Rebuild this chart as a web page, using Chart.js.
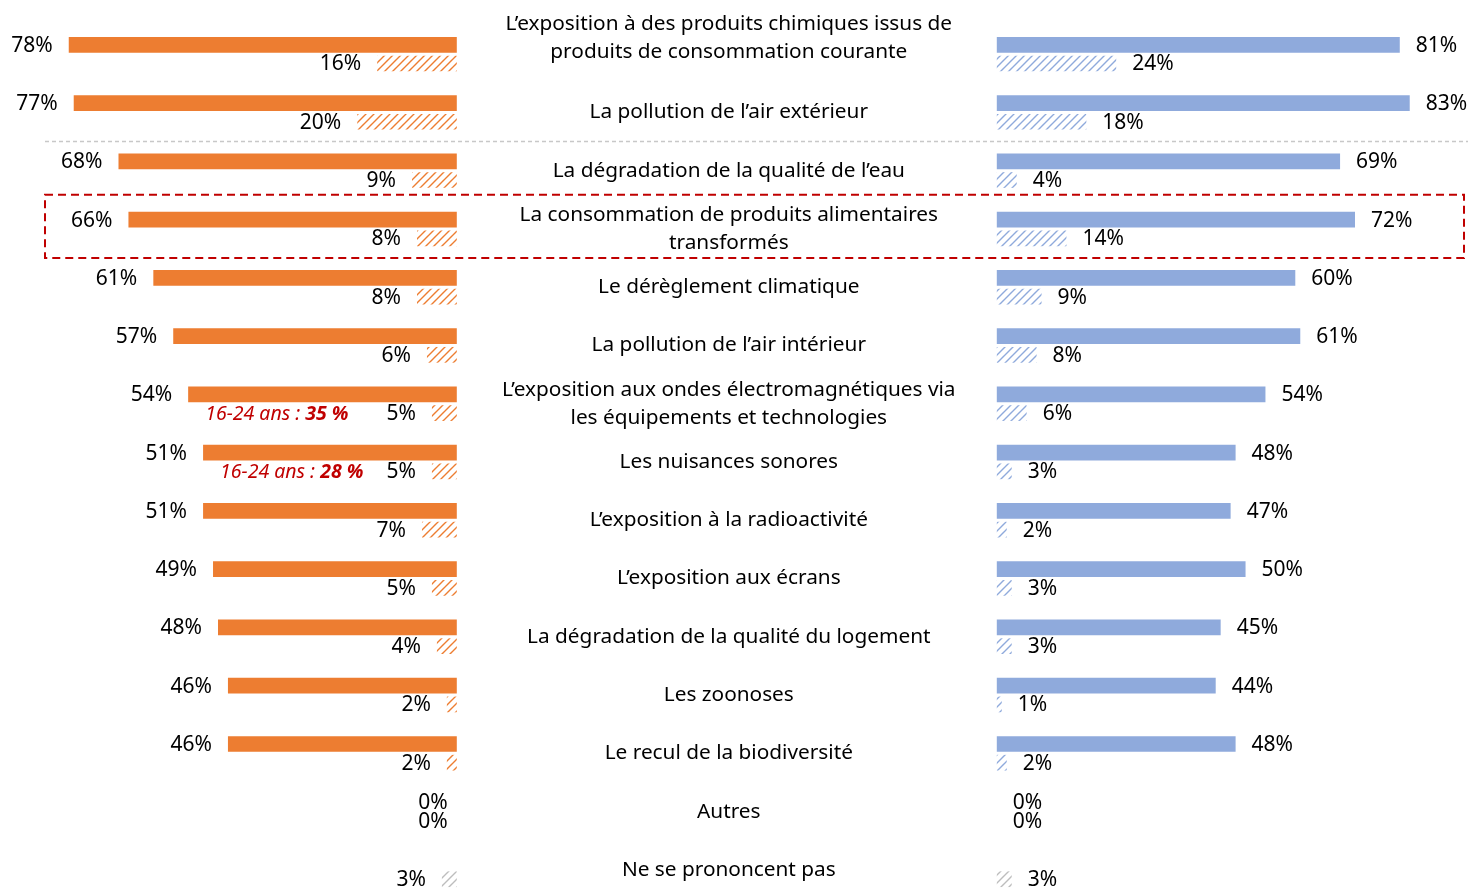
<!DOCTYPE html>
<html lang="fr">
<head>
<meta charset="utf-8">
<script src="https://cdn.jsdelivr.net/npm/chart.js@4/dist/chart.umd.min.js"></script>
<style>
  html, body { margin: 0; padding: 0; overflow: hidden; background: #ffffff; }
  #wrap { position: relative; width: 1468px; height: 910px; }
</style>
</head>
<body>
<div id="wrap"><canvas id="c"></canvas></div>
<script>
// ---------- DATA ----------
const categories = [
  ["L’exposition à des produits chimiques issus de", "produits de consommation courante"],
  "La pollution de l’air extérieur",
  "La dégradation de la qualité de l’eau",
  ["La consommation de produits alimentaires", "transformés"],
  "Le dérèglement climatique",
  "La pollution de l’air intérieur",
  ["L’exposition aux ondes électromagnétiques via", "les équipements et technologies"],
  "Les nuisances sonores",
  "L’exposition à la radioactivité",
  "L’exposition aux écrans",
  "La dégradation de la qualité du logement",
  "Les zoonoses",
  "Le recul de la biodiversité",
  "Autres",
  "Ne se prononcent pas"
];
const leftMain    = [78, 77, 68, 66, 61, 57, 54, 51, 51, 49, 48, 46, 46, 0, null];
const leftSecond  = [16, 20,  9,  8,  8,  6,  5,  5,  7,  5,  4,  2,  2, 0, 3];
const rightMain   = [81, 83, 69, 72, 60, 61, 54, 48, 47, 50, 45, 44, 48, 0, null];
const rightSecond = [24, 18,  4, 14,  9,  8,  6,  3,  2,  3,  3,  1,  2, 0, 3];
const noteCategories = [6, 7];
const notePrefixes   = ["16-24 ans : ", "16-24 ans : "];
const noteValues     = ["35 %", "28 %"];
const noOpinionIndex = 14;
const highlightIndex = 3;
const separatorAfterIndex = 1;

// ---------- STYLES ----------
const ORANGE = '#ED7D31';
const BLUE = '#8FAADC';
const GREY = '#BDBDBD';
const FONT = '"Noto Sans", "Open Sans", sans-serif';

function hatch(color) {
  const s = 8;
  const c = document.createElement('canvas');
  c.width = s; c.height = s;
  const g = c.getContext('2d');
  g.fillStyle = '#ffffff';
  g.fillRect(0, 0, s, s);
  g.strokeStyle = color;
  g.lineWidth = 1.4;
  g.beginPath();
  g.moveTo(0, s); g.lineTo(s, 0);
  g.moveTo(-2, 2); g.lineTo(2, -2);
  g.moveTo(s - 2, s + 2); g.lineTo(s + 2, s - 2);
  g.stroke();
  return g.createPattern(c, 'repeat');
}
const ctx = document.getElementById('c').getContext('2d');
const orangeHatch = hatch(ORANGE);
const blueHatch = hatch(BLUE);
const greyHatch = hatch(GREY);
const leftHatchColors = leftSecond.map((v, i) => i === noOpinionIndex ? greyHatch : orangeHatch);
const rightHatchColors = rightSecond.map((v, i) => i === noOpinionIndex ? greyHatch : blueHatch);

// px per percent = 4.975 ; left zero at 456.8px ; right zero at 996.8px ; width 1468
const PPP = 4.975, W = 1468, LZ = 456.8, RZ = 996.8;

const overlayPlugin = {
  id: 'overlay',
  beforeDatasetsDraw(chart) {
    const g = chart.ctx, y = chart.scales.y, ca = chart.chartArea;
    const sepY = (y.getPixelForValue(separatorAfterIndex) + y.getPixelForValue(separatorAfterIndex + 1)) / 2;
    g.save();
    g.strokeStyle = '#C8C8C8';
    g.lineWidth = 1.5;
    g.setLineDash([4, 3]);
    g.beginPath();
    g.moveTo(ca.left + 45, sepY); g.lineTo(ca.right, sepY);
    g.stroke();
    g.restore();
  },
  afterDatasetsDraw(chart) {
    const g = chart.ctx, y = chart.scales.y, ca = chart.chartArea;
    g.save();
    g.fillStyle = '#000000';
    g.textBaseline = 'middle';
    // value labels
    chart.data.datasets.forEach((ds, di) => {
      const meta = chart.getDatasetMeta(di);
      const isLeft = ds.xAxisID === 'xl';
      meta.data.forEach((el, i) => {
        const v = ds.data[i];
        if (v === null || v === undefined) return;
        g.font = '21px ' + FONT;
        g.textAlign = isLeft ? 'right' : 'left';
        const gap = (isLeft && v === 0) ? 9 : 16;
        g.fillText(v + '%', isLeft ? el.x - gap : el.x + gap, el.y + 1);
      });
    });
    // category labels
    const cx = (chart.scales.xl.getPixelForValue(0) + chart.scales.xr.getPixelForValue(0)) / 2 + 2;
    g.font = '20.8px ' + FONT;
    g.textAlign = 'center';
    const LH = 28;
    chart.data.labels.forEach((lab, i) => {
      const lines = Array.isArray(lab) ? lab : [lab];
      let center = y.getPixelForValue(i);
      if (i === 0) center = 10 + lines.length * LH / 2; // first label pinned to top edge
      const first = center - (lines.length - 1) * LH / 2;
      lines.forEach((t, k) => g.fillText(t, cx, first + k * LH));
    });
    // age notes (italic red)
    const lm = chart.getDatasetMeta(0), ls = chart.getDatasetMeta(1);
    noteCategories.forEach((ci, k) => {
      const x0 = lm.data[ci].x + 17;
      const yy = ls.data[ci].y + 1;
      g.fillStyle = '#C00000';
      g.textAlign = 'left';
      g.font = 'italic 19.5px ' + FONT;
      g.fillText(notePrefixes[k], x0, yy);
      const w = g.measureText(notePrefixes[k]).width;
      g.font = 'italic bold 19.5px ' + FONT;
      g.fillText(noteValues[k], x0 + w, yy);
    });
    // red dashed highlight box
    const top = (y.getPixelForValue(highlightIndex - 1) + y.getPixelForValue(highlightIndex)) / 2 - 5;
    const bot = (y.getPixelForValue(highlightIndex) + y.getPixelForValue(highlightIndex + 1)) / 2;
    g.strokeStyle = '#C00000';
    g.lineWidth = 2;
    g.setLineDash([8, 5]);
    g.strokeRect(ca.left + 45, top, ca.right - 4 - (ca.left + 45), bot - top);
    g.restore();
  }
};

new Chart(ctx, {
  type: 'bar',
  data: {
    labels: categories,
    datasets: [
      { label: 'Gauche', data: leftMain, xAxisID: 'xl', stack: 'main', backgroundColor: ORANGE },
      { label: 'Gauche (2)', data: leftSecond, xAxisID: 'xl', stack: 'second', backgroundColor: leftHatchColors },
      { label: 'Droite', data: rightMain, xAxisID: 'xr', stack: 'main', backgroundColor: BLUE },
      { label: 'Droite (2)', data: rightSecond, xAxisID: 'xr', stack: 'second', backgroundColor: rightHatchColors }
    ]
  },
  options: {
    indexAxis: 'y',
    responsive: true,
    maintainAspectRatio: false,
    animation: false,
    layout: { padding: { top: 25, bottom: 11, left: 0, right: 0 } },
    datasets: { bar: { categoryPercentage: 0.642, barPercentage: 0.84, borderWidth: 0 } },
    scales: {
      y: { display: false, grid: { display: false } },
      xl: { type: 'linear', axis: 'x', display: false, reverse: true, stacked: false,
            min: LZ / PPP - W / PPP, max: LZ / PPP },
      xr: { type: 'linear', axis: 'x', display: false, stacked: false,
            min: -RZ / PPP, max: W / PPP - RZ / PPP }
    },
    plugins: { legend: { display: false }, tooltip: { enabled: false } }
  },
  plugins: [overlayPlugin]
});
</script>
</body>
</html>
